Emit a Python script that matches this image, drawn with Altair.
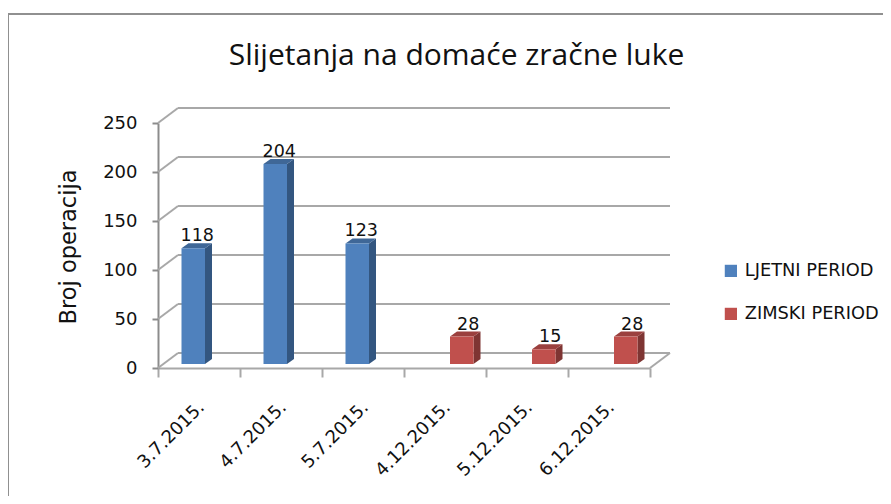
import altair as alt
import pandas as pd

categories = ["3.7.2015.", "4.7.2015.", "5.7.2015.", "4.12.2015.", "5.12.2015.", "6.12.2015."]
values = [118, 204, 123, 28, 15, 28]
series = ["LJETNI PERIOD", "LJETNI PERIOD", "LJETNI PERIOD", "ZIMSKI PERIOD", "ZIMSKI PERIOD", "ZIMSKI PERIOD"]
ticks = [0, 50, 100, 150, 200, 250]
series_names = ["LJETNI PERIOD", "ZIMSKI PERIOD"]
front_colors = ["#4F81BD", "#C0504D"]
side_colors = ["#335680", "#7E3533"]
top_colors = ["#3F6797", "#9B403E"]

FONT = "DejaVu Sans"
GRID = "#a8a8a8"
AXIS = "#8c8c8c"
PX_X = 82.0          # pixels per category
PX_Y = 0.98          # pixels per unit
WALL_X = 20 / PX_X
WALL_Y = 15 / PX_Y
BAR_X = 7 / PX_X
BAR_Y = 5 / PX_Y
BASE = 4 / PX_Y
BAR_W = 23.5 / PX_X
SLOT = {"LJETNI PERIOD": 23.5 / PX_X, "ZIMSKI PERIOD": 46 / PX_X}

rows = []
for i, (c, v, s) in enumerate(zip(categories, values, series)):
    x0 = i + SLOT[s]
    rows.append(dict(name=c, val=v, series=s, x0=x0, x1=x0 + BAR_W, top=v + BASE, base=BASE,
                     lx=x0 + (BAR_W + BAR_X) / 2 + (3 if s.startswith("Z") else 0.5) / PX_X,
                     ly=v + BASE + BAR_Y + 2 / PX_Y))
df = pd.DataFrame(rows)

xq = alt.Scale(domain=[0, 6], range=[0, 492], zero=False, nice=False)
ys = alt.Scale(domain=[0, 250], range=[261, 16], zero=False, nice=False)

# axes layer (ordinal categories, value axis)
axes = alt.Chart(df).mark_bar(opacity=0).encode(
    x=alt.X("name:N", sort=categories, title=None,
            scale=alt.Scale(range=[0, 492], paddingInner=0, paddingOuter=0),
            axis=alt.Axis(labelAngle=-45, labelFont=FONT, labelFontSize=18, labelColor="#111111",
                          labelPadding=21, labelOffset=-4, tickBand="extent", tickSize=9, tickWidth=2,
                          tickColor=GRID, domainColor=GRID, domainWidth=2, grid=False)),
    y=alt.Y("val:Q", scale=ys, stack=None,
            axis=alt.Axis(values=ticks, title="Broj operacija", titleFont=FONT, titleFontSize=22.5,
                          titleFontWeight="normal", titleColor="#111111", titleX=-78, titleY=139.5,
                          labelFont=FONT, labelFontSize=18, labelColor="#111111", labelPadding=15,
                          tickSize=6, tickWidth=2, tickColor=AXIS, domainColor=AXIS, domainWidth=2,
                          grid=False)),
)

# back wall gridlines and wall/floor slants
grid_rows = []
for t in ticks:
    grid_rows.append(dict(g=f"b{t}", x=WALL_X, y=t + WALL_Y))
    grid_rows.append(dict(g=f"b{t}", x=6 + WALL_X, y=t + WALL_Y))
    grid_rows.append(dict(g=f"s{t}", x=0, y=t))
    grid_rows.append(dict(g=f"s{t}", x=WALL_X, y=t + WALL_Y))
grid_rows.append(dict(g="r", x=6, y=0))
grid_rows.append(dict(g="r", x=6 + WALL_X, y=WALL_Y))
grid = alt.Chart(pd.DataFrame(grid_rows)).mark_line(color=GRID, strokeWidth=2).encode(
    x=alt.X("x:Q", scale=xq, axis=None),
    y=alt.Y("y:Q", scale=ys),
    detail="g:N",
)

layers = [axes, grid]

for name, side_c, top_c in zip(series_names, side_colors, top_colors):
    sub = df[df.series == name]
    side_rows, top_rows = [], []
    for r in sub.to_dict("records"):
        side_rows.append(dict(name=r["name"], x=r["x1"], y=r["top"], y2=r["base"]))
        side_rows.append(dict(name=r["name"], x=r["x1"] + BAR_X, y=r["top"] + BAR_Y, y2=r["base"] + BAR_Y))
        top_rows.append(dict(name=r["name"], y=r["top"], x=r["x0"], x2=r["x1"]))
        top_rows.append(dict(name=r["name"], y=r["top"] + BAR_Y, x=r["x0"] + BAR_X, x2=r["x1"] + BAR_X))
    layers.append(alt.Chart(pd.DataFrame(side_rows)).mark_area(color=side_c).encode(
        x=alt.X("x:Q", scale=xq, axis=None),
        y=alt.Y("y:Q", scale=ys, stack=None), y2="y2:Q", detail="name:N"))
    layers.append(alt.Chart(pd.DataFrame(top_rows)).mark_area(color=top_c, orient="horizontal").encode(
        x=alt.X("x:Q", scale=xq, axis=None, stack=None), x2="x2:Q",
        y=alt.Y("y:Q", scale=ys), detail="name:N"))

front = alt.Chart(df).mark_rect().encode(
    x=alt.X("x0:Q", scale=xq, axis=None), x2="x1:Q",
    y=alt.Y("top:Q", scale=ys), y2="base:Q",
    color=alt.Color("series:N", scale=alt.Scale(domain=series_names, range=front_colors),
                    legend=alt.Legend(orient="none", legendX=564, legendY=155, title=None,
                                      symbolType="square", symbolSize=150, symbolStrokeWidth=0,
                                      labelFont=FONT, labelFontSize=17.8, labelColor="#111111",
                                      labelOffset=5, rowPadding=24, symbolOpacity=1)),
)
labels = alt.Chart(df).mark_text(font=FONT, fontSize=17.5, color="#111111", baseline="alphabetic").encode(
    x=alt.X("lx:Q", scale=xq, axis=None),
    y=alt.Y("ly:Q", scale=ys),
    text="val:Q",
)
frame_top = alt.Chart(df).mark_rule(color="#909090", strokeWidth=2).encode(
    x=alt.value(-150), x2=alt.value(725), y=alt.value(-93))
frame_left = alt.Chart(df).mark_rule(color="#909090", strokeWidth=2).encode(
    x=alt.value(-150), y=alt.value(-93), y2=alt.value(389))

layers += [front, labels, frame_top, frame_left]

chart = alt.layer(*layers).resolve_scale(x="independent").properties(
    width=511, height=261,
    padding={"left": 150, "top": 99, "right": 214, "bottom": 136},
    autosize=alt.AutoSizeParams(type="none"),
    background="white",
    title=alt.TitleParams("Slijetanja na domaće zračne luke", font="Open Sans", fontSize=30,
                          fontWeight="normal", color="#111111", anchor="middle", dx=43, offset=-58),
).configure_view(stroke=None)

chart.save("out.html", embed_options={"renderer": "svg", "actions": False})
